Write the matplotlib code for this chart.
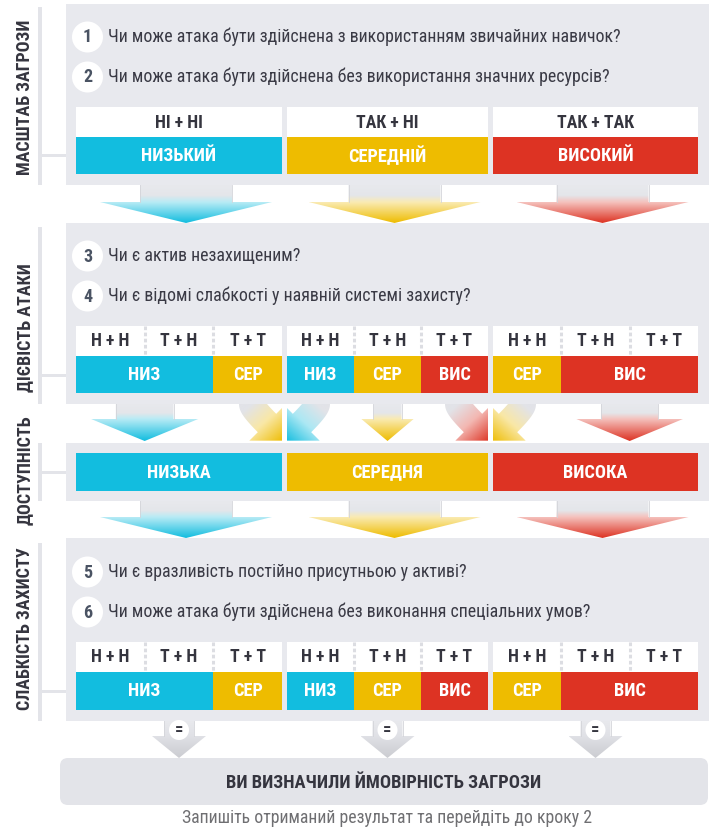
import numpy as np
import matplotlib
matplotlib.use('Agg')
import matplotlib.pyplot as plt
from matplotlib import font_manager as fm
from matplotlib.font_manager import FontProperties
from matplotlib.patches import Rectangle, Polygon, Circle, FancyBboxPatch
from matplotlib.colors import LinearSegmentedColormap, to_rgb

# ---- content ----
section_titles = ['МАСШТАБ ЗАГРОЗИ', 'ДІЄВІСТЬ АТАКИ', 'ДОСТУПНІСТЬ', 'СЛАБКІСТЬ ЗАХИСТУ']
questions_scale = ['Чи може атака бути здійснена з використанням звичайних навичок?',
                   'Чи може атака бути здійснена без використання значних ресурсів?']
questions_attack = ['Чи є актив незахищеним?',
                    'Чи є відомі слабкості у наявній системі захисту?']
questions_weak = ['Чи є вразливість постійно присутньою у активі?',
                  'Чи може атака бути здійснена без виконання спеціальних умов?']
scale_answers = ['НІ + НІ', 'ТАК + НІ', 'ТАК + ТАК']
scale_levels = ['НИЗЬКИЙ', 'СЕРЕДНІЙ', 'ВИСОКИЙ']
pair_answers = ['Н + Н', 'Т + Н', 'Т + Т']
short_levels = ['НИЗ', 'СЕР', 'ВИС']
access_levels = ['НИЗЬКА', 'СЕРЕДНЯ', 'ВИСОКА']
# level reached for incoming level (row) and answer pair (column): 0 low, 1 mid, 2 high
level_matrix = [[0, 0, 1],
                [0, 1, 2],
                [1, 2, 2]]
result_text = 'ВИ ВИЗНАЧИЛИ ЙМОВІРНІСТЬ ЗАГРОЗИ'
footer_text = 'Запишіть отриманий результат та перейдіть до кроку 2'

level_colors = ['#12bddf', '#eebc00', '#dd3323']
panel_gray = '#e8e9ee'
line_gray = '#e3e4e9'
dark = '#35353f'


# ---- fonts: prefer a condensed face ----
def _w(f):
    w = f.weight
    if isinstance(w, str):
        w = fm.weight_dict.get(w, 400)
    return w


def font_file(bold):
    want = 700 if bold else 400
    prefs = ['Ubuntu Condensed', 'Roboto Condensed', 'Open Sans Condensed',
             'Liberation Sans Narrow', 'Noto Sans', 'DejaVu Sans']
    for name in prefs:
        cands = [f for f in fm.fontManager.ttflist
                 if f.name == name and f.style == 'normal'
                 and (f.stretch != 'normal' or 'Condensed' in name or 'Narrow' in name)
                 and not any(s in f.fname.lower() for s in ('extra', 'semi', 'ultra'))]
        if cands:
            best = min(cands, key=lambda f: abs(_w(f) - want))
            if abs(_w(best) - want) <= 100:
                return best.fname, True
    fp = FontProperties(family=['Liberation Sans', 'DejaVu Sans'],
                        weight='bold' if bold else 'normal')
    return fm.findfont(fp), False


REG, narrow = font_file(False)
BOLD, _ = font_file(True)
k = 1.0 if narrow else 0.86

fig = plt.figure(figsize=(7.09, 8.32), dpi=100)
ax = fig.add_axes([0, 0, 1, 1])


def txt(x, y, s, size, bold=False, color=dark, **kw):
    fp = FontProperties(fname=BOLD if bold else REG, size=size * k)
    kw.setdefault('ha', 'center')
    kw.setdefault('va', 'center')
    return ax.text(x, y, s, fontproperties=fp, color=color, zorder=5, **kw)


def mix(c, f):
    c = np.array(to_rgb(c))
    return tuple(c * f + (1 - f))


def grad_fill(verts, stops, p0, p1, extent=None, z=2):
    verts = np.asarray(verts, float)
    poly = Polygon(verts, closed=True, fc='none', ec='none')
    ax.add_patch(poly)
    if extent is None:
        x0, y0 = verts.min(axis=0)
        x1, y1 = verts.max(axis=0)
    else:
        x0, x1, y0, y1 = extent
    X, Y = np.meshgrid(np.linspace(x0, x1, 160), np.linspace(y0, y1, 160))
    d = np.subtract(p1, p0)
    g = ((X - p0[0]) * d[0] + (Y - p0[1]) * d[1]) / float(d @ d)
    cmap = LinearSegmentedColormap.from_list('g', stops)
    im = ax.imshow(np.clip(g, 0, 1), cmap=cmap, vmin=0, vmax=1,
                   extent=(x0, x1, y1, y0), origin='upper',
                   interpolation='bilinear', zorder=z)
    im.set_clip_path(poly)


def down_arrow(cx, y0, ys, y1, sw, hw, stops, edge=True):
    verts = [(cx - sw, y0), (cx + sw, y0), (cx + sw, ys), (cx + hw, ys),
             (cx, y1), (cx - hw, ys), (cx - sw, ys)]
    grad_fill(verts, stops, (cx, y0), (cx, y1))
    if edge:
        for x in (cx - sw, cx + sw):
            ax.plot([x, x], [y0, ys], color='#d3d4d9', lw=0.6, zorder=3)


def color_stops(c, shaft_frac):
    return [(0, '#e8e9ed'), (shaft_frac * 0.6, '#e4e6ea'),
            (shaft_frac, mix(c, 0.3)), (1, c)]


def curved_arrow(a, b, s, color, y0=404, y1=441):
    e = b if s > 0 else a
    x0 = e - s * 30
    p0 = np.array([x0, y0], float)
    p1 = np.array([x0, y0 + 4], float)
    p2 = np.array([x0 + s * 15, y0 + 19], float)
    t = np.linspace(0, 1, 40)[:, None]
    B = (1 - t) ** 2 * p0 + 2 * (1 - t) * t * p1 + t ** 2 * p2
    D = 2 * (1 - t) * (p1 - p0) + 2 * t * (p2 - p1)
    D /= np.linalg.norm(D, axis=1, keepdims=True)
    N = np.column_stack([-D[:, 1], D[:, 0]])
    hw, hh, L = 13, 25, 25
    tip = p2 + L * D[-1]
    verts = np.vstack([B + hw * N, [p2 + hh * N[-1]], [tip],
                       [p2 - hh * N[-1]], (B - hw * N)[::-1]])
    grad_fill(verts, [(0, '#e2e3e8'), (0.45, mix(color, 0.35)), (1, color)],
              p0, tip, extent=(a, b, y0, y1))


def panel(y0, y1):
    ax.add_patch(Rectangle((66, y0), 709 - 66, y1 - y0, fc=panel_gray, ec='none', zorder=1))


def side_label(title, l0, l1, yc, yt):
    ax.add_patch(Rectangle((38.3, l0), 3.4, l1 - l0, fc=line_gray, ec='none', zorder=1))
    ax.add_patch(Rectangle((41.7, yc - 1.5), 66 - 41.7, 3, fc=line_gray, ec='none', zorder=1))
    txt(25, yt, title, 13, bold=True, rotation=90)


def question(num, text, y):
    ax.add_patch(Circle((87.5, y), 15.5, fc='white', ec='none', zorder=3))
    txt(87.5, y + 0.5, str(num), 13, bold=True, color='#4a5363')
    txt(108, y, text, 12.9, color='#3a3a45', ha='left')


cols = [(76, 282), (287, 488), (493, 698)]


def merge_runs(levels):
    runs = []
    for j, lv in enumerate(levels):
        if runs and runs[-1][2] == lv:
            runs[-1][1] = j + 1
        else:
            runs.append([j, j + 1, lv])
    return runs


def pair_block(yh, yc, yb):
    segs = []
    for g, (a, b) in enumerate(cols):
        w3 = (b - a) / 3
        ax.add_patch(Rectangle((a, yh), b - a, yc - yh, fc='white', ec='none', zorder=2))
        for j, lab in enumerate(pair_answers):
            txt(a + (j + 0.5) * w3, (yh + yc) / 2 + 0.5, lab, 12.8, bold=True)
        for j in (1, 2):
            x = a + j * w3
            ax.plot([x, x], [yh, yc], color='#dcdde2', lw=2.2,
                    linestyle=(0, (1.2, 0.8)), zorder=3)
        for j0, j1, lv in merge_runs(level_matrix[g]):
            xa, xb = a + j0 * w3, a + j1 * w3
            ax.add_patch(Rectangle((xa, yc), xb - xa, yb - yc, fc=level_colors[lv],
                                   ec='none', zorder=2))
            txt((xa + xb) / 2, (yc + yb) / 2 + 0.5, short_levels[lv], 13.2,
                bold=True, color='white')
            segs.append((xa, xb, lv, g))
    return segs


# ---- section 1: scale of threat ----
panel(4, 185)
side_label(section_titles[0], 7, 185, 155, 97)
for i, (q, y) in enumerate(zip(questions_scale, [37, 77])):
    question(i + 1, q, y)
for i, (a, b) in enumerate(cols):
    ax.add_patch(Rectangle((a, 107), b - a, 30, fc='white', ec='none', zorder=2))
    txt((a + b) / 2, 122.5, scale_answers[i], 12.8, bold=True)
    ax.add_patch(Rectangle((a, 137), b - a, 37, fc=level_colors[i], ec='none', zorder=2))
    txt((a + b) / 2, 156, scale_levels[i], 13.2, bold=True, color='white')

for i, (a, b) in enumerate(cols):
    down_arrow((a + b) / 2 + 7, 185, 202, 223, 46, 86, color_stops(level_colors[i], 0.45))

# ---- section 2: attack feasibility ----
panel(223, 404)
side_label(section_titles[1], 227, 404, 375, 328)
for i, (q, y) in enumerate(zip(questions_attack, [256, 296])):
    question(i + 3, q, y)
segs = pair_block(326, 356, 393)

for xa, xb, lv, g in segs:
    w = xb - xa
    if lv == g:
        down_arrow((xa + xb) / 2, 404, 419, 441, 0.21 * w, 0.39 * w,
                   color_stops(level_colors[lv], 0.4))
    else:
        curved_arrow(xa, xb, 1 if lv > g else -1, level_colors[lv])

# ---- section 3: accessibility ----
panel(443, 501)
side_label(section_titles[2], 443, 501, 472, 470)
for i, (a, b) in enumerate(cols):
    ax.add_patch(Rectangle((a, 453), b - a, 38, fc=level_colors[i], ec='none', zorder=2))
    txt((a + b) / 2, 472.5, access_levels[i], 13.2, bold=True, color='white')
for i, (a, b) in enumerate(cols):
    down_arrow((a + b) / 2 + 7, 501, 517, 538, 46, 86, color_stops(level_colors[i], 0.43))

# ---- section 4: weakness of protection ----
panel(538, 721)
side_label(section_titles[3], 543, 721, 691, 629)
for i, (q, y) in enumerate(zip(questions_weak, [572, 612])):
    question(i + 5, q, y)
pair_block(642, 672, 710)

# ---- result ----
ax.add_patch(FancyBboxPatch((60, 758), 648, 47, boxstyle='round,pad=0,rounding_size=8',
                            fc='#e3e4e9', ec='none', zorder=1))
for a, b in cols:
    cx = (a + b) / 2
    down_arrow(cx, 721, 736, 758, 15, 27,
               [(0, '#e8e9ed'), (0.4, '#e0e1e6'), (1, '#cbccd1')])
    ax.add_patch(Circle((cx, 730), 10, fc='white', ec='none', zorder=4))
    txt(cx, 730, '=', 12, bold=True)
txt(384, 782.5, result_text, 13.3, bold=True)
txt(387, 818, footer_text, 12.8, color='#6f6f72')

ax.set_xlim(0, 709)
ax.set_ylim(832, 0)
ax.set_aspect('auto')
ax.axis('off')
fig.savefig('out.png', dpi=100, facecolor='white')
